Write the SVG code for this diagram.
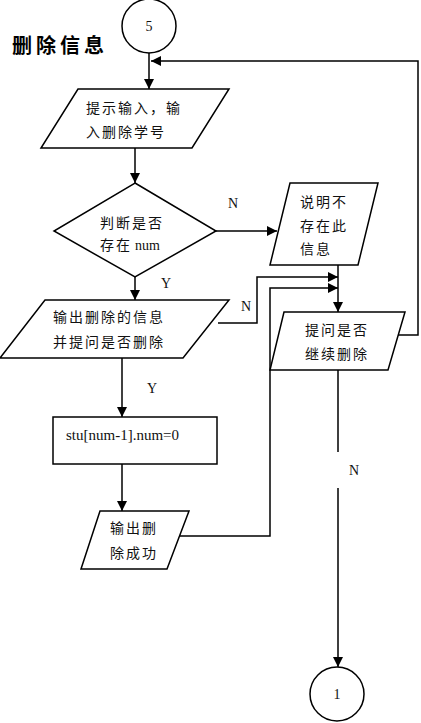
<svg xmlns="http://www.w3.org/2000/svg" width="421" height="723" viewBox="0 0 421 723">
<style>
.s{fill:#fff;stroke:#000;stroke-width:1.5}
.c{fill:none;stroke:#000;stroke-width:1.5}
.t{font-family:"Liberation Serif","Noto Sans CJK SC",serif;font-size:14px;letter-spacing:2px;fill:#111}
.l{font-family:"Liberation Serif",serif;font-size:14px;fill:#111}
.h{font-family:"Noto Sans CJK SC","Liberation Sans",sans-serif;font-size:20px;font-weight:bold;letter-spacing:4px;fill:#000}
</style>
<defs>
<marker id="a" markerUnits="userSpaceOnUse" markerWidth="10" markerHeight="10" refX="10" refY="5" orient="auto">
<path d="M0,0 L10,5 L0,10 z" fill="#000"/>
</marker>
</defs>
<rect width="421" height="723" fill="#fff"/>
<text class="h" x="12" y="53">删除信息</text>
<g id="connectors">
<path class="c" d="M149,53 V89" marker-end="url(#a)"/>
<path class="c" d="M135,148 V183" marker-end="url(#a)"/>
<path class="c" d="M216,231 H277" marker-end="url(#a)"/>
<path class="c" d="M135,277 V300" marker-end="url(#a)"/>
<path class="c" d="M218,323 H257 V277 H338" marker-end="url(#a)"/>
<path class="c" d="M338,265 V312" marker-end="url(#a)"/>
<path class="c" d="M180,536 H270 V288 H338" marker-end="url(#a)"/>
<path class="c" d="M397,335 H418 V61 H151" marker-end="url(#a)"/>
<path class="c" d="M122,358 V417" marker-end="url(#a)"/>
<path class="c" d="M122,464 V511" marker-end="url(#a)"/>
<path class="c" d="M338,370 V452 M338,488 V667" marker-end="url(#a)"/>
<text class="l" x="228" y="208">N</text>
<text class="l" x="161" y="288">Y</text>
<text class="l" x="241" y="311">N</text>
<text class="l" x="147" y="393">Y</text>
<text class="l" x="349" y="475">N</text>
</g>
<g id="start">
<circle class="s" cx="149" cy="26" r="27"/>
<text class="l" x="149" y="31" text-anchor="middle">5</text>
</g>
<g id="input">
<polygon class="s" points="78,89 229,89 192,148 41,148"/>
<text class="t" x="86" y="113">提示输入，输</text>
<text class="t" x="86" y="137">入删除学号</text>
</g>
<g id="decision">
<polygon class="s" points="135,183 216,231 135,277 54,231"/>
<text class="t" x="100" y="228">判断是否</text>
<text class="t" x="100" y="250">存在<tspan letter-spacing="0" dx="3">num</tspan></text>
</g>
<g id="notexist">
<polygon class="s" points="290,183 378,183 358,265 270,265"/>
<text class="t" x="300" y="207">说明不</text>
<text class="t" x="300" y="231">存在此</text>
<text class="t" x="300" y="254">信息</text>
</g>
<g id="confirm">
<polygon class="s" points="45,300 229,300 183,358 0,358"/>
<text class="t" x="53" y="322">输出删除的信息</text>
<text class="t" x="53" y="347">并提问是否删除</text>
</g>
<g id="continue">
<polygon class="s" points="284,312 405,312 388,370 270,370"/>
<text class="t" x="305" y="335">提问是否</text>
<text class="t" x="305" y="359">继续删除</text>
</g>
<g id="assign">
<rect class="s" x="53" y="417" width="164" height="47"/>
<text class="l" x="66" y="440" style="font-size:15px">stu[num-1].num=0</text>
</g>
<g id="success">
<polygon class="s" points="100,511 189,511 167,569 81,569"/>
<text class="t" x="110" y="533">输出删</text>
<text class="t" x="110" y="558">除成功</text>
</g>
<g id="end">
<circle class="s" cx="337" cy="694" r="27"/>
<text class="l" x="337" y="699" text-anchor="middle">1</text>
</g>
</svg>
